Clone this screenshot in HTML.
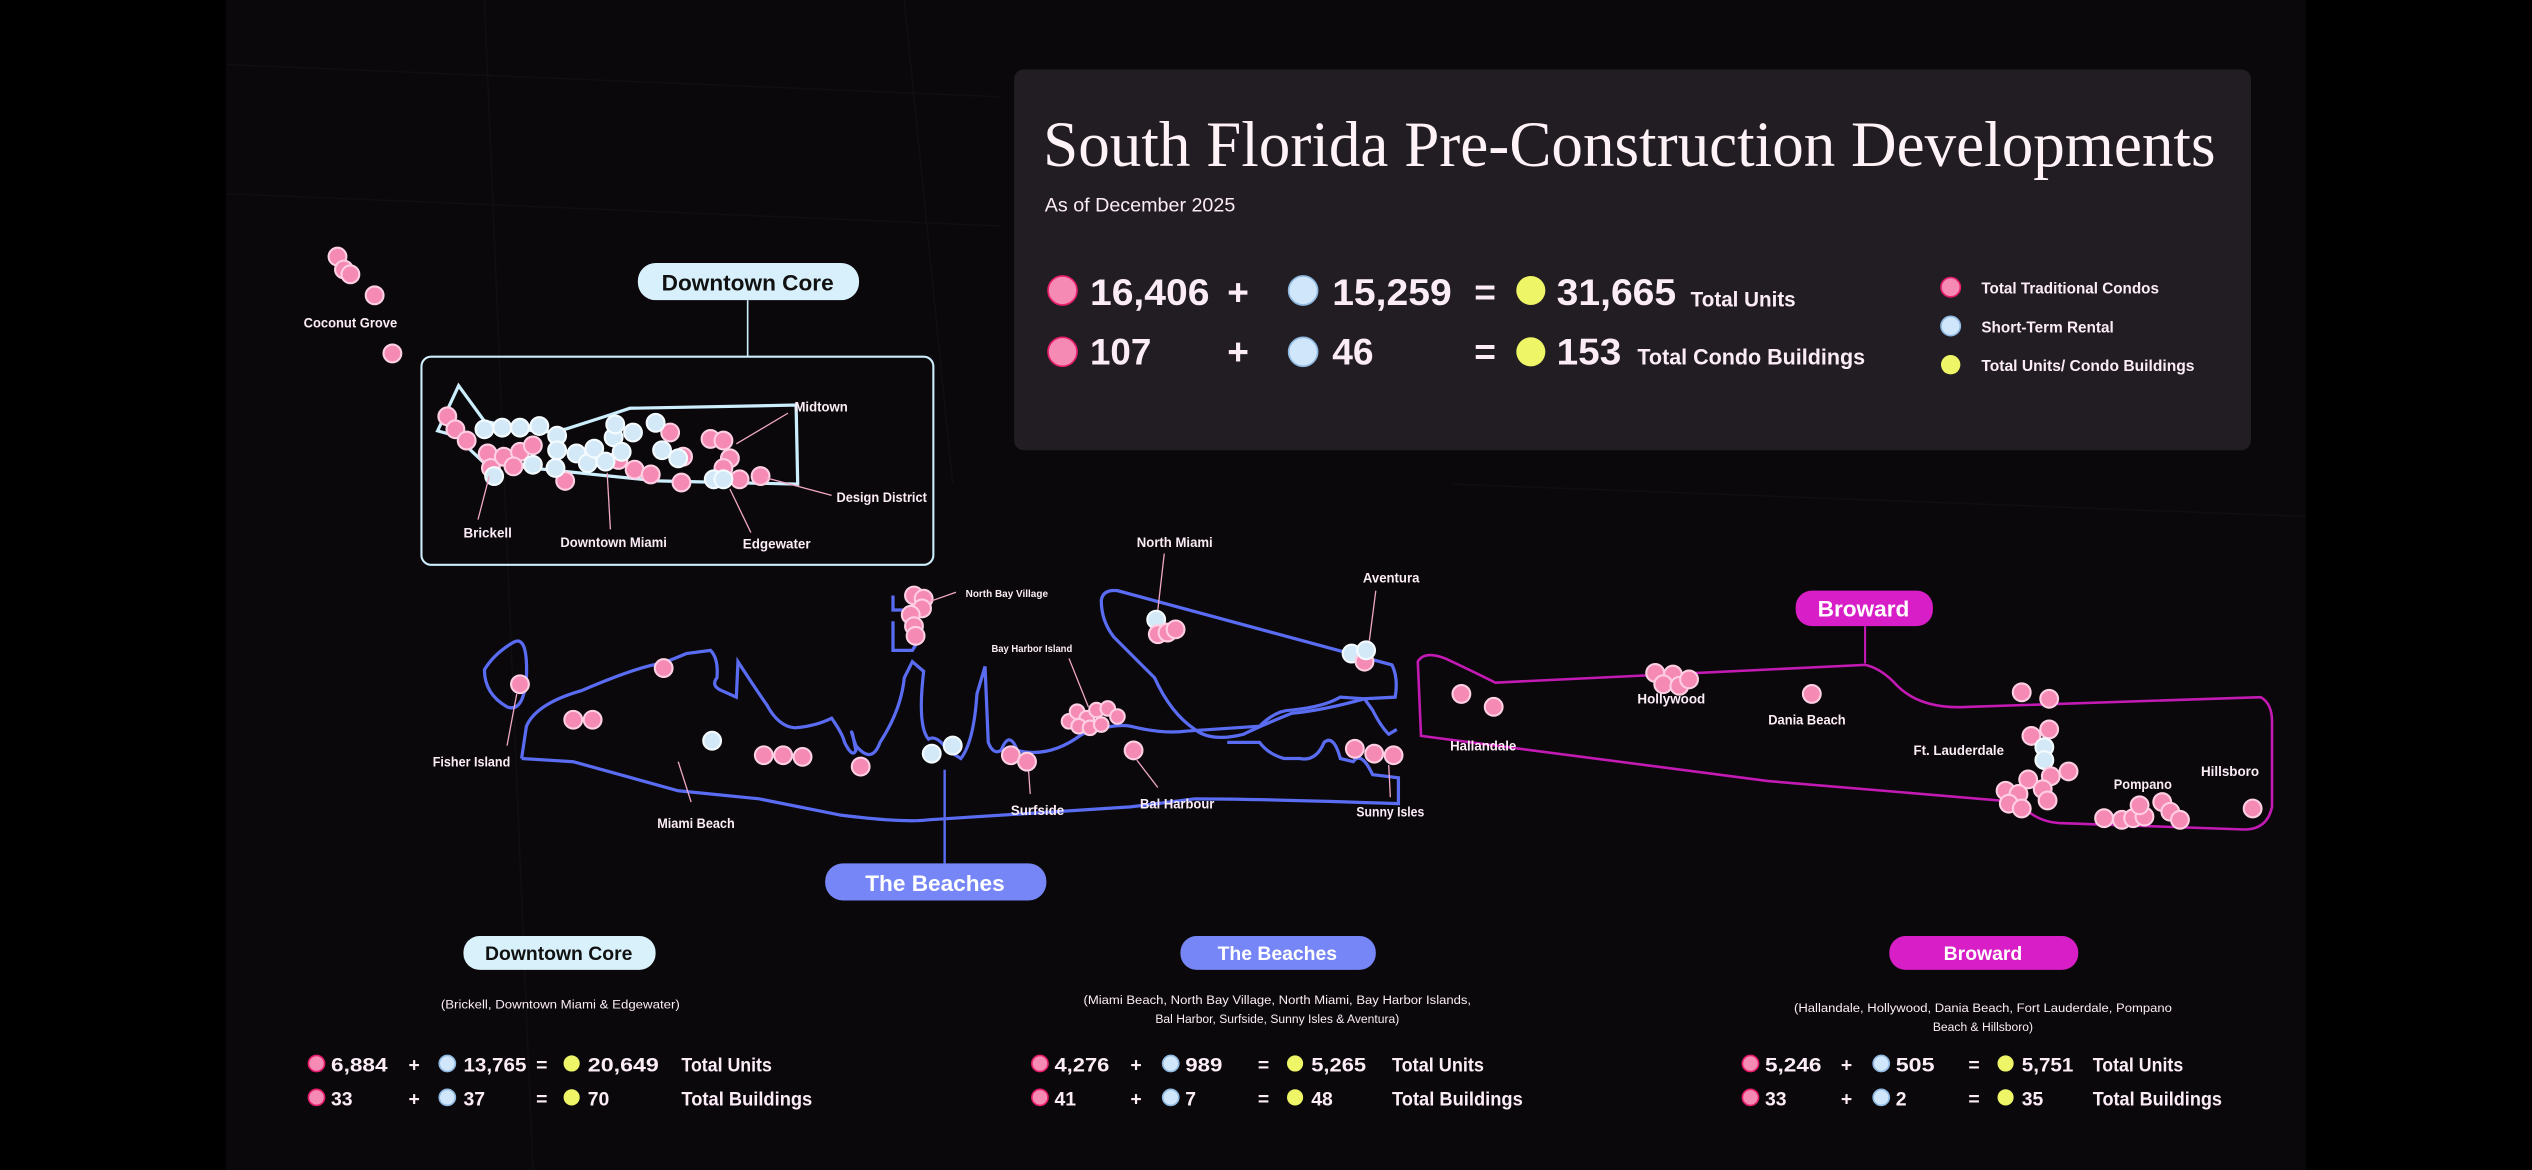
<!DOCTYPE html>
<html><head><meta charset="utf-8"><style>
html,body{margin:0;padding:0;background:#000;}
svg{display:block;}
text{font-family:"Liberation Sans",sans-serif;fill:#fcecf6;}
.l{font-size:8.5px;font-weight:bold;}
.p{fill:#f58ab4;stroke:#ffd0e3;stroke-width:1.3;}
.b{fill:#d3e9f8;stroke:#f4fbff;stroke-width:1.3;}
.y{fill:#eef566;}
.pp{fill:#f58ab4;stroke:#e61d6c;stroke-width:1;}
.bb{fill:#cfe6fb;stroke:#8fb8e0;stroke-width:1;}
.st{font-size:12px;font-weight:bold;}
</style></head><body>
<svg width="2532" height="1170" viewBox="0 0 1568 725" preserveAspectRatio="none" xmlns="http://www.w3.org/2000/svg">
<rect width="1568" height="725" fill="#000"/>
<rect x="140" y="0" width="1288" height="725" fill="#0a080b"/>
<g stroke="#100e11" stroke-width="1" fill="none">
<path d="M300 0 L330 725 M560 0 L590 300 M140 40 L620 60 M140 120 L620 140 M900 300 L1428 320"/>
</g>
<!-- main panel -->
<rect x="628" y="43" width="766" height="236" rx="6" fill="#221d23"/>
<text x="646" y="103" style="font-family:'Liberation Serif',serif;font-size:40px;fill:#fff3f8" textLength="726" lengthAdjust="spacingAndGlyphs">South Florida Pre-Construction Developments</text>
<text x="647" y="131" style="font-size:12px" textLength="118" lengthAdjust="spacingAndGlyphs">As of December 2025</text>
<g style="font-size:23px;font-weight:bold">
<circle cx="658" cy="180" r="9" class="pp"/><text x="675" y="189" textLength="74" lengthAdjust="spacingAndGlyphs">16,406</text><text x="760" y="189">+</text>
<circle cx="807" cy="180" r="9" class="bb"/><text x="825" y="189" textLength="74" lengthAdjust="spacingAndGlyphs">15,259</text><text x="913" y="189">=</text>
<circle cx="948" cy="180" r="9" class="y"/><text x="964" y="189" textLength="74" lengthAdjust="spacingAndGlyphs">31,665</text>
<circle cx="658" cy="218" r="9" class="pp"/><text x="675" y="226" textLength="38" lengthAdjust="spacingAndGlyphs">107</text><text x="760" y="226">+</text>
<circle cx="807" cy="218" r="9" class="bb"/><text x="825" y="226">46</text><text x="913" y="226">=</text>
<circle cx="948" cy="218" r="9" class="y"/><text x="964" y="226" textLength="40" lengthAdjust="spacingAndGlyphs">153</text>
</g>
<text x="1047" y="190" style="font-size:13px;font-weight:bold" textLength="65" lengthAdjust="spacingAndGlyphs">Total Units</text>
<text x="1014" y="226" style="font-size:14px;font-weight:bold" textLength="141" lengthAdjust="spacingAndGlyphs">Total  Condo Buildings</text>
<circle cx="1208" cy="178" r="6" class="pp"/><text x="1227" y="182" style="font-size:10px;font-weight:bold" textLength="110" lengthAdjust="spacingAndGlyphs">Total Traditional Condos</text>
<circle cx="1208" cy="202" r="6" class="bb"/><text x="1227" y="206" style="font-size:10px;font-weight:bold" textLength="82" lengthAdjust="spacingAndGlyphs">Short-Term Rental</text>
<circle cx="1208" cy="226" r="6" class="y"/><text x="1227" y="230" style="font-size:10px;font-weight:bold" textLength="132" lengthAdjust="spacingAndGlyphs">Total Units/ Condo Buildings</text>

<!-- Coconut Grove -->
<circle cx="209" cy="159" r="5.5" class="p"/><circle cx="213" cy="167" r="5.5" class="p"/><circle cx="217" cy="170" r="5.5" class="p"/><circle cx="232" cy="183" r="5.5" class="p"/><circle cx="243" cy="219" r="5.5" class="p"/>
<text x="188" y="203" class="l" textLength="58" lengthAdjust="spacingAndGlyphs">Coconut Grove</text>

<!-- Downtown core -->
<rect x="395" y="163" width="137" height="23" rx="11" fill="#d8f0fb"/>
<text x="463" y="180" text-anchor="middle" style="font-size:14px;font-weight:bold;fill:#111">Downtown Core</text>
<line x1="463" y1="186" x2="463" y2="221" stroke="#cdeefc" stroke-width="1"/>
<rect x="261" y="221" width="317" height="129" rx="6" fill="none" stroke="#cdeefc" stroke-width="1.3"/>
<path d="M271 267 L284 239 L300 261 L335 268 L350 266 L378 257 L390 253 L493 251 L494 300 L407 298 L300 287 L282 270 Z" fill="none" stroke="#cdeefc" stroke-width="2"/>
<g>
<circle cx="277" cy="258" r="5.5" class="p"/><circle cx="282" cy="266" r="5.5" class="p"/><circle cx="289" cy="273" r="5.5" class="p"/>
<circle cx="302" cy="281" r="5.5" class="p"/><circle cx="304" cy="290" r="5.5" class="p"/><circle cx="312" cy="283" r="5.5" class="p"/><circle cx="322" cy="280" r="5.5" class="p"/><circle cx="318" cy="289" r="5.5" class="p"/><circle cx="330" cy="276" r="5.5" class="p"/><circle cx="350" cy="298" r="5.5" class="p"/><circle cx="383" cy="285" r="5.5" class="p"/><circle cx="393" cy="291" r="5.5" class="p"/><circle cx="403" cy="294" r="5.5" class="p"/><circle cx="415" cy="268" r="5.5" class="p"/><circle cx="423" cy="283" r="5.5" class="p"/><circle cx="422" cy="299" r="5.5" class="p"/><circle cx="440" cy="272" r="5.5" class="p"/><circle cx="448" cy="273" r="5.5" class="p"/><circle cx="452" cy="284" r="5.5" class="p"/><circle cx="448" cy="290" r="5.5" class="p"/><circle cx="458" cy="297" r="5.5" class="p"/><circle cx="471" cy="295" r="5.5" class="p"/>
<circle cx="300" cy="266" r="5.5" class="b"/><circle cx="311" cy="265" r="5.5" class="b"/><circle cx="322" cy="265" r="5.5" class="b"/><circle cx="334" cy="264" r="5.5" class="b"/><circle cx="345" cy="270" r="5.5" class="b"/><circle cx="345" cy="279" r="5.5" class="b"/><circle cx="306" cy="295" r="5.5" class="b"/><circle cx="330" cy="288" r="5.5" class="b"/><circle cx="344" cy="290" r="5.5" class="b"/><circle cx="357" cy="281" r="5.5" class="b"/><circle cx="364" cy="287" r="5.5" class="b"/><circle cx="368" cy="278" r="5.5" class="b"/><circle cx="375" cy="286" r="5.5" class="b"/><circle cx="380" cy="271" r="5.5" class="b"/><circle cx="381" cy="263" r="5.5" class="b"/><circle cx="385" cy="280" r="5.5" class="b"/><circle cx="392" cy="268" r="5.5" class="b"/><circle cx="406" cy="262" r="5.5" class="b"/><circle cx="410" cy="279" r="5.5" class="b"/><circle cx="420" cy="284" r="5.5" class="b"/><circle cx="442" cy="297" r="5.5" class="b"/><circle cx="448" cy="297" r="5.5" class="b"/>
</g>
<g stroke="#f2a8c8" stroke-width="0.8">
<line x1="303" y1="295" x2="296" y2="322"/><line x1="376" y1="293" x2="378" y2="328"/><line x1="452" y1="303" x2="465" y2="330"/><line x1="474" y1="296" x2="515" y2="307"/><line x1="456" y1="275" x2="488" y2="256"/>
</g>
<text x="287" y="333" class="l" textLength="30" lengthAdjust="spacingAndGlyphs">Brickell</text><text x="347" y="339" class="l" textLength="66" lengthAdjust="spacingAndGlyphs">Downtown Miami</text><text x="460" y="340" class="l" textLength="42" lengthAdjust="spacingAndGlyphs">Edgewater</text><text x="518" y="311" class="l" textLength="56" lengthAdjust="spacingAndGlyphs">Design District</text><text x="492" y="255" class="l" textLength="33" lengthAdjust="spacingAndGlyphs">Midtown</text>

<!-- Beaches outlines -->
<g fill="none" stroke="#5a6cf2" stroke-width="2">
<path d="M318 398 Q327 393 326 420 Q324 442 314 438 Q300 430 300 415 Q306 405 318 398 Z"/>
<path d="M323 470 L326 450 Q332 436 360 428 Q395 413 410 411 Q418 408 425 405 L440 403 Q445 408 444 420 Q440 425 447 428 L456 432 L457 410 Q468 427 475 437 Q482 450 492 451 Q505 450 515 445 Q522 455 523 460 Q528 470 530 465 L528 455 Q526 450 530 462 Q540 474 545 460 Q558 440 560 420 L565 410 L572 416 Q568 450 575 458 Q580 455 587 465 L595 470 Q603 460 605 430 L610 413 L612 460 Q615 468 620 465 Q625 452 630 465 Q650 470 670 455 Q690 448 700 450 Q720 455 735 453 Q765 451 780 450 Q790 440 800 440 Q820 438 830 432 L845 433 L850 440 Q855 450 860 455 L865 452"/>
<path d="M323 470 L355 472 L420 490 L470 495 L520 505 Q560 510 575 508 L700 500 L740 495 Q780 495 866 498 L866 482 L850 480 Q843 465 838 472 L830 470 Q826 455 820 460 Q815 472 805 470 L795 470 Q785 467 780 460 L760 460"/>
<path d="M682 372 Q683 365 692 366 L862 412 Q866 420 864 432 L845 433 Q820 440 800 442 Q780 450 770 455 Q750 460 740 452 Q725 442 715 420 Q695 400 690 395 Q682 385 682 372 Z"/>
<path d="M553 369 L553 378 L562 378 M553 385 L553 403 L565 403 L570 395"/>
</g>
<g>
<circle cx="322" cy="424" r="5.5" class="p"/><circle cx="355" cy="446" r="5.5" class="p"/><circle cx="367" cy="446" r="5.5" class="p"/><circle cx="411" cy="414" r="5.5" class="p"/><circle cx="441" cy="459" r="5.5" class="b"/><circle cx="473" cy="468" r="5.5" class="p"/><circle cx="485" cy="468" r="5.5" class="p"/><circle cx="497" cy="469" r="5.5" class="p"/><circle cx="533" cy="475" r="5.5" class="p"/><circle cx="577" cy="467" r="5.5" class="b"/><circle cx="590" cy="462" r="5.5" class="b"/><circle cx="626" cy="468" r="5.5" class="p"/><circle cx="636" cy="472" r="5.5" class="p"/><circle cx="702" cy="465" r="5.5" class="p"/>
<circle cx="566" cy="369" r="5.5" class="p"/><circle cx="572" cy="371" r="5.5" class="p"/><circle cx="571" cy="377" r="5.5" class="p"/><circle cx="564" cy="381" r="5.5" class="p"/><circle cx="566" cy="388" r="5.5" class="p"/><circle cx="567" cy="394" r="5.5" class="p"/>
<circle cx="716" cy="384" r="5.5" class="b"/><circle cx="717" cy="393" r="5.5" class="p"/><circle cx="723" cy="392" r="5.5" class="p"/><circle cx="728" cy="390" r="5.5" class="p"/>
<circle cx="837" cy="405" r="5.5" class="b"/><circle cx="845" cy="410" r="5.5" class="p"/><circle cx="846" cy="403" r="5.5" class="b"/>
<circle cx="839" cy="464" r="5.5" class="p"/><circle cx="851" cy="467" r="5.5" class="p"/><circle cx="863" cy="468" r="5.5" class="p"/>
<circle cx="662" cy="447" r="4.5" class="p"/><circle cx="667" cy="441" r="4.5" class="p"/><circle cx="673" cy="445" r="4.5" class="p"/><circle cx="679" cy="440" r="4.5" class="p"/><circle cx="686" cy="439" r="4.5" class="p"/><circle cx="692" cy="444" r="4.5" class="p"/><circle cx="668" cy="450" r="4.5" class="p"/><circle cx="675" cy="451" r="4.5" class="p"/><circle cx="682" cy="449" r="4.5" class="p"/>
</g>
<g stroke="#f2a8c8" stroke-width="0.8">
<line x1="320" y1="430" x2="314" y2="462"/><line x1="420" y1="472" x2="428" y2="497"/><line x1="637" y1="478" x2="638" y2="492"/><line x1="704" y1="471" x2="717" y2="488"/><line x1="860" y1="474" x2="861" y2="494"/><line x1="674" y1="438" x2="662" y2="408"/><line x1="575" y1="373" x2="592" y2="367"/><line x1="717" y1="378" x2="721" y2="343"/><line x1="848" y1="397" x2="852" y2="366"/>
</g>
<text x="268" y="475" class="l" textLength="48" lengthAdjust="spacingAndGlyphs">Fisher Island</text><text x="407" y="513" class="l" textLength="48" lengthAdjust="spacingAndGlyphs">Miami Beach</text><text x="626" y="505" class="l" textLength="33" lengthAdjust="spacingAndGlyphs">Surfside</text><text x="706" y="501" class="l" textLength="46" lengthAdjust="spacingAndGlyphs">Bal Harbour</text><text x="840" y="506" class="l" textLength="42" lengthAdjust="spacingAndGlyphs">Sunny Isles</text>
<text x="598" y="370" style="font-size:6px;font-weight:bold" textLength="51" lengthAdjust="spacingAndGlyphs">North Bay Village</text>
<text x="614" y="404" style="font-size:6px;font-weight:bold" textLength="50" lengthAdjust="spacingAndGlyphs">Bay Harbor Island</text>
<text x="704" y="339" class="l" textLength="47" lengthAdjust="spacingAndGlyphs">North Miami</text><text x="844" y="361" class="l" textLength="35" lengthAdjust="spacingAndGlyphs">Aventura</text>
<line x1="585" y1="477" x2="585" y2="535" stroke="#5a6cf2" stroke-width="1.5"/>
<rect x="511" y="535" width="137" height="23" rx="11" fill="#7686f6"/>
<text x="579" y="552" text-anchor="middle" style="font-size:14px;font-weight:bold;fill:#fff">The Beaches</text>

<!-- Broward -->
<rect x="1112" y="366" width="85" height="22" rx="10" fill="#d81ec6"/>
<text x="1154" y="382" text-anchor="middle" style="font-size:14px;font-weight:bold;fill:#fff">Broward</text>
<line x1="1155" y1="388" x2="1155" y2="411" stroke="#c41ab4" stroke-width="1.3"/>
<path d="M878 410 Q882 403 895 408 Q910 415 926 423 L1155 412 Q1165 414 1175 425 Q1190 440 1220 438 L1400 432 Q1407 436 1407 447 L1407 500 Q1404 514 1390 514 L1275 510 Q1260 509 1250 497 L1095 484 L880 456 Z" fill="none" stroke="#c41ab4" stroke-width="1.6"/>
<g>
<circle cx="905" cy="430" r="5.5" class="p"/><circle cx="925" cy="438" r="5.5" class="p"/><circle cx="1025" cy="417" r="5.5" class="p"/><circle cx="1036" cy="418" r="5.5" class="p"/><circle cx="1030" cy="424" r="5.5" class="p"/><circle cx="1040" cy="425" r="5.5" class="p"/><circle cx="1046" cy="421" r="5.5" class="p"/><circle cx="1122" cy="430" r="5.5" class="p"/>
<circle cx="1252" cy="429" r="5.5" class="p"/><circle cx="1269" cy="433" r="5.5" class="p"/><circle cx="1269" cy="452" r="5.5" class="p"/><circle cx="1258" cy="456" r="5.5" class="p"/><circle cx="1266" cy="463" r="5.5" class="b"/><circle cx="1266" cy="471" r="5.5" class="b"/><circle cx="1270" cy="481" r="5.5" class="p"/><circle cx="1281" cy="478" r="5.5" class="p"/><circle cx="1256" cy="483" r="5.5" class="p"/><circle cx="1265" cy="489" r="5.5" class="p"/><circle cx="1242" cy="490" r="5.5" class="p"/><circle cx="1250" cy="492" r="5.5" class="p"/><circle cx="1268" cy="496" r="5.5" class="p"/><circle cx="1244" cy="498" r="5.5" class="p"/><circle cx="1252" cy="501" r="5.5" class="p"/>
<circle cx="1303" cy="507" r="5.5" class="p"/><circle cx="1314" cy="508" r="5.5" class="p"/><circle cx="1321" cy="507" r="5.5" class="p"/><circle cx="1328" cy="506" r="5.5" class="p"/><circle cx="1325" cy="499" r="5.5" class="p"/><circle cx="1339" cy="497" r="5.5" class="p"/><circle cx="1344" cy="503" r="5.5" class="p"/><circle cx="1350" cy="508" r="5.5" class="p"/><circle cx="1395" cy="501" r="5.5" class="p"/>
</g>
<text x="898" y="465" class="l" textLength="41" lengthAdjust="spacingAndGlyphs">Hallandale</text><text x="1014" y="436" class="l" textLength="42" lengthAdjust="spacingAndGlyphs">Hollywood</text><text x="1095" y="449" class="l" textLength="48" lengthAdjust="spacingAndGlyphs">Dania Beach</text><text x="1185" y="468" class="l" textLength="56" lengthAdjust="spacingAndGlyphs">Ft. Lauderdale</text><text x="1309" y="489" class="l" textLength="36" lengthAdjust="spacingAndGlyphs">Pompano</text><text x="1363" y="481" class="l" textLength="36" lengthAdjust="spacingAndGlyphs">Hillsboro</text>

<!-- Bottom stats -->
<rect x="287" y="580" width="119" height="21" rx="10" fill="#d9f1fb"/>
<text x="346" y="595" text-anchor="middle" style="font-size:12px;font-weight:bold;fill:#111">Downtown Core</text>
<rect x="731" y="580" width="121" height="21" rx="10" fill="#7686f6"/>
<text x="791" y="595" text-anchor="middle" style="font-size:12px;font-weight:bold;fill:#fff">The Beaches</text>
<rect x="1170" y="580" width="117" height="21" rx="10" fill="#d81ec6"/>
<text x="1228" y="595" text-anchor="middle" style="font-size:12px;font-weight:bold;fill:#fff">Broward</text>
<g style="font-size:7.5px" text-anchor="middle">
<text x="347" y="625" textLength="148" lengthAdjust="spacingAndGlyphs">(Brickell, Downtown Miami &amp; Edgewater)</text>
<text x="791" y="622" textLength="240" lengthAdjust="spacingAndGlyphs">(Miami Beach, North Bay Village, North Miami, Bay Harbor Islands,</text>
<text x="791" y="634">Bal Harbor, Surfside, Sunny Isles &amp; Aventura)</text>
<text x="1228" y="627" textLength="234" lengthAdjust="spacingAndGlyphs">(Hallandale, Hollywood, Dania Beach,  Fort Lauderdale, Pompano</text>
<text x="1228" y="639">Beach &amp; Hillsboro)</text>
</g>
<g class="st">
<circle cx="196" cy="659" r="5" class="pp"/><text x="205" y="664" textLength="35" lengthAdjust="spacingAndGlyphs">6,884</text><text x="253" y="664">+</text><circle cx="277" cy="659" r="5" class="bb"/><text x="287" y="664" textLength="39" lengthAdjust="spacingAndGlyphs">13,765</text><text x="332" y="664">=</text><circle cx="354" cy="659" r="5" class="y"/><text x="364" y="664" textLength="44" lengthAdjust="spacingAndGlyphs">20,649</text><text x="422" y="664" textLength="56" lengthAdjust="spacingAndGlyphs">Total Units</text>
<circle cx="196" cy="680" r="5" class="pp"/><text x="205" y="685">33</text><text x="253" y="685">+</text><circle cx="277" cy="680" r="5" class="bb"/><text x="287" y="685">37</text><text x="332" y="685">=</text><circle cx="354" cy="680" r="5" class="y"/><text x="364" y="685">70</text><text x="422" y="685" textLength="81" lengthAdjust="spacingAndGlyphs">Total Buildings</text>

<circle cx="644" cy="659" r="5" class="pp"/><text x="653" y="664" textLength="34" lengthAdjust="spacingAndGlyphs">4,276</text><text x="700" y="664">+</text><circle cx="725" cy="659" r="5" class="bb"/><text x="734" y="664" textLength="23" lengthAdjust="spacingAndGlyphs">989</text><text x="779" y="664">=</text><circle cx="802" cy="659" r="5" class="y"/><text x="812" y="664" textLength="34" lengthAdjust="spacingAndGlyphs">5,265</text><text x="862" y="664" textLength="57" lengthAdjust="spacingAndGlyphs">Total Units</text>
<circle cx="644" cy="680" r="5" class="pp"/><text x="653" y="685">41</text><text x="700" y="685">+</text><circle cx="725" cy="680" r="5" class="bb"/><text x="734" y="685">7</text><text x="779" y="685">=</text><circle cx="802" cy="680" r="5" class="y"/><text x="812" y="685">48</text><text x="862" y="685" textLength="81" lengthAdjust="spacingAndGlyphs">Total Buildings</text>

<circle cx="1084" cy="659" r="5" class="pp"/><text x="1093" y="664" textLength="35" lengthAdjust="spacingAndGlyphs">5,246</text><text x="1140" y="664">+</text><circle cx="1165" cy="659" r="5" class="bb"/><text x="1174" y="664" textLength="24" lengthAdjust="spacingAndGlyphs">505</text><text x="1219" y="664">=</text><circle cx="1242" cy="659" r="5" class="y"/><text x="1252" y="664" textLength="32" lengthAdjust="spacingAndGlyphs">5,751</text><text x="1296" y="664" textLength="56" lengthAdjust="spacingAndGlyphs">Total Units</text>
<circle cx="1084" cy="680" r="5" class="pp"/><text x="1093" y="685">33</text><text x="1140" y="685">+</text><circle cx="1165" cy="680" r="5" class="bb"/><text x="1174" y="685">2</text><text x="1219" y="685">=</text><circle cx="1242" cy="680" r="5" class="y"/><text x="1252" y="685">35</text><text x="1296" y="685" textLength="80" lengthAdjust="spacingAndGlyphs">Total Buildings</text>
</g>
</svg>
</body></html>
